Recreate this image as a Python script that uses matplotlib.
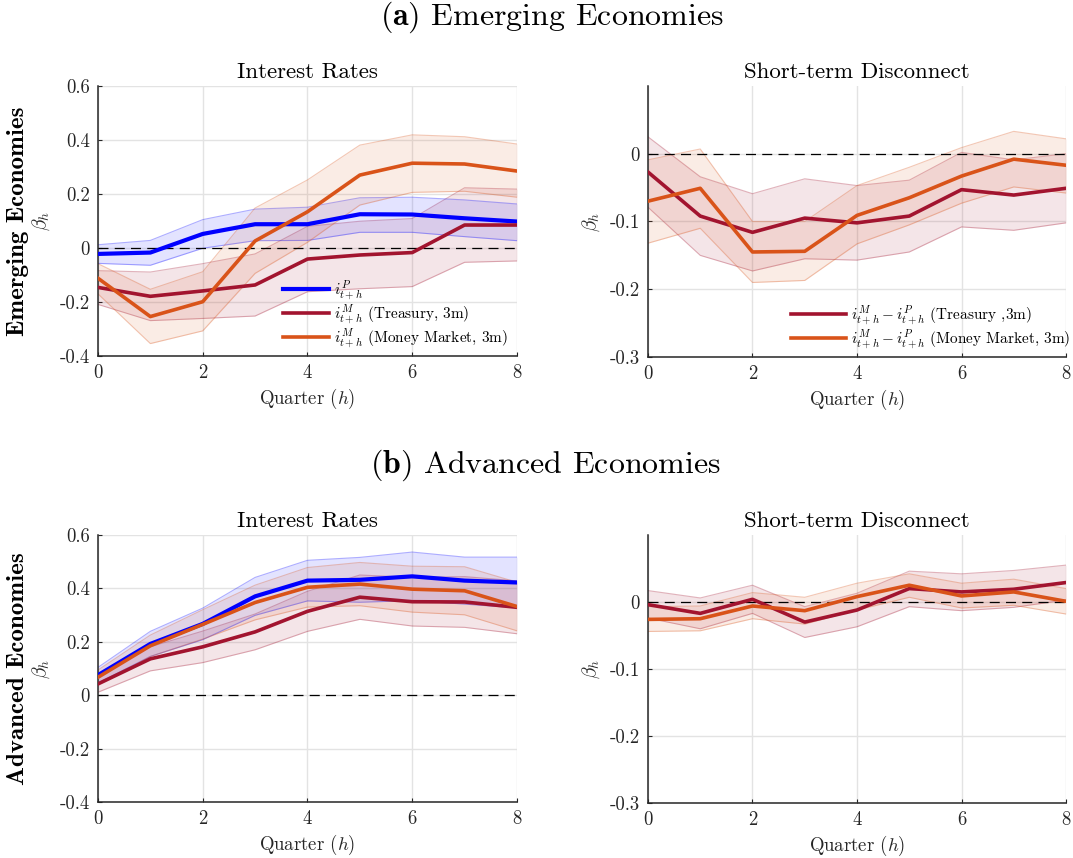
import numpy as np
import matplotlib
matplotlib.use("Agg")
import matplotlib.pyplot as plt

plt.rcParams['font.family'] = 'serif'
plt.rcParams['font.serif'] = ['cmr10']
plt.rcParams['mathtext.fontset'] = 'cm'
plt.rcParams['axes.unicode_minus'] = False
plt.rcParams['axes.formatter.use_mathtext'] = True

h = np.arange(9)

# ---- Emerging economies: interest rates
em_p = [-0.022, -0.017, 0.052, 0.088, 0.088, 0.125, 0.124, 0.110, 0.098]
em_p_lo = [-0.057, -0.064, -0.001, 0.027, 0.028, 0.058, 0.058, 0.042, 0.027]
em_p_hi = [0.012, 0.028, 0.105, 0.144, 0.151, 0.186, 0.188, 0.178, 0.163]
em_tb = [-0.146, -0.179, -0.159, -0.137, -0.041, -0.026, -0.017, 0.085, 0.085]
em_tb_lo = [-0.209, -0.269, -0.261, -0.252, -0.162, -0.151, -0.143, -0.053, -0.048]
em_tb_hi = [-0.084, -0.089, -0.058, -0.022, 0.080, 0.099, 0.109, 0.223, 0.218]
em_mm = [-0.112, -0.254, -0.199, 0.026, 0.134, 0.270, 0.314, 0.311, 0.285]
em_mm_lo = [-0.170, -0.354, -0.307, -0.094, 0.021, 0.159, 0.206, 0.210, 0.188]
em_mm_hi = [-0.058, -0.153, -0.088, 0.148, 0.252, 0.381, 0.419, 0.412, 0.385]

# ---- Emerging economies: short-term disconnect
em_dtb = [-0.027, -0.092, -0.116, -0.095, -0.102, -0.092, -0.053, -0.061, -0.051]
em_dtb_lo = [-0.079, -0.150, -0.173, -0.155, -0.157, -0.145, -0.108, -0.113, -0.102]
em_dtb_hi = [0.025, -0.034, -0.059, -0.037, -0.047, -0.039, 0.002, -0.009, 0.000]
em_dmm = [-0.070, -0.051, -0.145, -0.144, -0.091, -0.065, -0.033, -0.008, -0.017]
em_dmm_lo = [-0.132, -0.110, -0.190, -0.187, -0.133, -0.105, -0.073, -0.049, -0.058]
em_dmm_hi = [-0.009, 0.007, -0.100, -0.100, -0.047, -0.020, 0.009, 0.033, 0.022]

# ---- Advanced economies: interest rates
ad_p = [0.075, 0.192, 0.267, 0.370, 0.429, 0.432, 0.445, 0.429, 0.422]
ad_p_lo = [0.046, 0.145, 0.208, 0.299, 0.353, 0.348, 0.354, 0.341, 0.327]
ad_p_hi = [0.104, 0.239, 0.326, 0.441, 0.505, 0.516, 0.536, 0.517, 0.517]
ad_tb = [0.042, 0.136, 0.181, 0.237, 0.314, 0.367, 0.350, 0.349, 0.329]
ad_tb_lo = [0.011, 0.091, 0.122, 0.170, 0.239, 0.284, 0.259, 0.254, 0.230]
ad_tb_hi = [0.073, 0.181, 0.240, 0.304, 0.389, 0.450, 0.441, 0.444, 0.428]
ad_mm = [0.067, 0.185, 0.265, 0.347, 0.404, 0.416, 0.397, 0.391, 0.332]
ad_mm_lo = [0.040, 0.145, 0.210, 0.282, 0.330, 0.335, 0.311, 0.301, 0.241]
ad_mm_hi = [0.094, 0.225, 0.320, 0.412, 0.478, 0.497, 0.483, 0.481, 0.423]

# ---- Advanced economies: short-term disconnect
ad_dtb = [-0.004, -0.017, 0.004, -0.030, -0.012, 0.020, 0.015, 0.019, 0.029]
ad_dtb_lo = [-0.024, -0.040, -0.017, -0.053, -0.037, -0.007, -0.013, -0.008, 0.003]
ad_dtb_hi = [0.017, 0.006, 0.025, -0.007, 0.013, 0.046, 0.042, 0.047, 0.055]
ad_dmm = [-0.026, -0.025, -0.006, -0.013, 0.008, 0.025, 0.009, 0.015, 0.001]
ad_dmm_lo = [-0.044, -0.043, -0.025, -0.033, -0.012, 0.007, -0.009, -0.005, -0.018]
ad_dmm_hi = [-0.007, -0.006, 0.014, 0.007, 0.028, 0.042, 0.028, 0.034, 0.020]

c_p = (0.0, 0.0, 1.0)
c_tb = (0.635, 0.078, 0.184)
c_mm = (0.85, 0.325, 0.098)
txt = '#262626'

lab_p = r'$i^{P}_{t+h}$'
lab_tb = r'$i^{M}_{t+h}$ (Treasury, 3m)'
lab_mm = r'$i^{M}_{t+h}$ (Money Market, 3m)'
lab_dtb = r'$i^{M}_{t+h}-i^{P}_{t+h}$ (Treasury ,3m)'
lab_dmm = r'$i^{M}_{t+h}-i^{P}_{t+h}$ (Money Market, 3m)'


def band(ax, lo, hi, col):
    ax.fill_between(h, lo, hi, color=col, alpha=0.11, lw=0, zorder=2)
    ax.plot(h, lo, color=col, alpha=0.32, lw=0.8, zorder=2)
    ax.plot(h, hi, color=col, alpha=0.32, lw=0.8, zorder=2)


def style(ax, ylim, yticks):
    ax.set_xlim(0, 8)
    ax.set_ylim(*ylim)
    ax.set_xticks([0, 2, 4, 6, 8])
    ax.set_xticklabels(['0', '2', '4', '6', '8'])
    ax.set_yticks(yticks)
    ax.set_yticklabels(['%g' % v for v in yticks])
    ax.grid(True, color='#e3e3e3', lw=1.0, zorder=0)
    ax.set_axisbelow(True)
    for s in ['top', 'right']:
        ax.spines[s].set_visible(False)
    for s in ['left', 'bottom']:
        ax.spines[s].set_color(txt)
        ax.spines[s].set_linewidth(1.1)
    ax.tick_params(direction='in', length=3, width=0.8, colors=txt,
                   labelsize=13.5, pad=6)
    ax.axhline(0, color='black', lw=0.9, dashes=(8, 5), zorder=3)
    ax.set_xlabel(r'Quarter $(h)$', fontsize=13.5, color=txt, labelpad=3)
    ax.set_ylabel(r'$\beta_h$', fontsize=14, color=txt)
    ax.yaxis.set_label_coords(-0.11, 0.5)


fig = plt.figure(figsize=(10.73, 8.58), dpi=100)

ax1 = fig.add_axes([0.0913, 0.5851, 0.3905, 0.3147])
ax2 = fig.add_axes([0.6039, 0.5839, 0.3896, 0.3159])
ax3 = fig.add_axes([0.0913, 0.0653, 0.3905, 0.3112])
ax4 = fig.add_axes([0.6039, 0.0641, 0.3896, 0.3124])

# interest rate panels
for ax, p, plo, phi, tb, tlo, thi, mm, mlo, mhi in [
        (ax1, em_p, em_p_lo, em_p_hi, em_tb, em_tb_lo, em_tb_hi, em_mm, em_mm_lo, em_mm_hi),
        (ax3, ad_p, ad_p_lo, ad_p_hi, ad_tb, ad_tb_lo, ad_tb_hi, ad_mm, ad_mm_lo, ad_mm_hi)]:
    style(ax, (-0.4, 0.6), [-0.4, -0.2, 0, 0.2, 0.4, 0.6])
    band(ax, tlo, thi, c_tb)
    band(ax, plo, phi, c_p)
    band(ax, mlo, mhi, c_mm)
    ax.plot(h, p, color=c_p, lw=3.0, zorder=4, label=lab_p)
    ax.plot(h, tb, color=c_tb, lw=2.6, zorder=4, label=lab_tb)
    ax.plot(h, mm, color=c_mm, lw=2.6, zorder=5, label=lab_mm)
    ax.set_title('Interest Rates', fontsize=16.5, color='black', pad=6)

ax1.legend(loc='lower left', bbox_to_anchor=(0.42, -0.01), frameon=False,
           fontsize=11, handlelength=3.0, handletextpad=0.3,
           labelspacing=0.0, borderaxespad=0.2)

# disconnect panels
for ax, tb, tlo, thi, mm, mlo, mhi in [
        (ax2, em_dtb, em_dtb_lo, em_dtb_hi, em_dmm, em_dmm_lo, em_dmm_hi),
        (ax4, ad_dtb, ad_dtb_lo, ad_dtb_hi, ad_dmm, ad_dmm_lo, ad_dmm_hi)]:
    style(ax, (-0.3, 0.1), [-0.3, -0.2, -0.1, 0])
    band(ax, tlo, thi, c_tb)
    band(ax, mlo, mhi, c_mm)
    ax.plot(h, tb, color=c_tb, lw=2.6, zorder=4, label=lab_dtb)
    ax.plot(h, mm, color=c_mm, lw=2.6, zorder=5, label=lab_dmm)
    ax.set_title('Short-term Disconnect', fontsize=16.5, color='black', pad=6)

ax2.legend(loc='lower left', bbox_to_anchor=(0.32, -0.01), frameon=False,
           fontsize=11, handlelength=3.6, handletextpad=0.3,
           labelspacing=0.0, borderaxespad=0.2)

# panel headings and row labels
fig.text(0.514, 0.98, r'$\mathbf{(a)}$ Emerging Economies', fontsize=23,
         ha='center', va='center')
fig.text(0.508, 0.458, r'$\mathbf{(b)}$ Advanced Economies', fontsize=23,
         ha='center', va='center')
fig.text(0.017, 0.5851 + 0.3147 / 2, 'Emerging Economies', family='cmb10',
         fontsize=18, rotation=90, ha='center', va='center')
fig.text(0.017, 0.0653 + 0.3112 / 2, 'Advanced Economies', family='cmb10',
         fontsize=18, rotation=90, ha='center', va='center')

fig.savefig('out.png', dpi=100)
